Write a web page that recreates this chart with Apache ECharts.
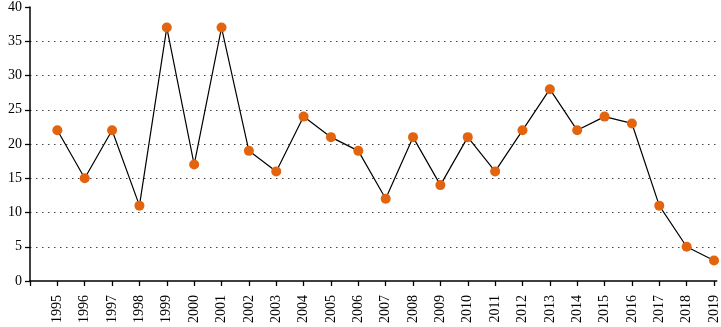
<!DOCTYPE html>
<html>
<head>
<meta charset="utf-8">
<script src="https://cdn.jsdelivr.net/npm/echarts@6/dist/echarts.min.js"></script>
<style>
  html, body { margin: 0; padding: 0; background: #fff; }
  #chart { width: 721px; height: 327px; }
</style>
</head>
<body>
<div id="chart"></div>
<script>
const years = [1995, 1996, 1997, 1998, 1999, 2000, 2001, 2002, 2003, 2004, 2005, 2006, 2007,
  2008, 2009, 2010, 2011, 2012, 2013, 2014, 2015, 2016, 2017, 2018, 2019];
const counts = [22, 15, 22, 11, 37, 17, 37, 19, 16, 24, 21, 19, 12,
  21, 14, 21, 16, 22, 28, 22, 24, 23, 11, 5, 3];
const yTicks = [0, 5, 10, 15, 20, 25, 30, 35, 40];

const chart = echarts.init(document.getElementById("chart"));

const font = "'Liberation Serif', 'DejaVu Serif', serif";

const option = {
  animation: false,
  grid: {
    left: 30,
    right: 2,
    top: 7,
    bottom: 46,
  },
  xAxis: {
    type: "value",
    min: 1994,
    max: 2019.1,
    interval: 1,
    splitLine: { show: false },
    axisLine: { lineStyle: { color: "#000", width: 1.5 } },
    axisTick: { length: 5, lineStyle: { color: "#000", width: 1.3 } },
    axisLabel: {
      rotate: 90,
      color: "#000",
      fontFamily: font,
      fontSize: 14,
      margin: 14,
      showMaxLabel: false,
      formatter: (v) => (years.includes(v) ? String(v) : ""),
    },
  },
  yAxis: {
    type: "value",
    min: yTicks[0],
    max: yTicks[yTicks.length - 1],
    interval: 5,
    axisLine: { show: true, lineStyle: { color: "#000", width: 1.5 } },
    axisTick: { show: true, length: 5, lineStyle: { color: "#000", width: 1.3 } },
    axisLabel: {
      color: "#000",
      fontFamily: font,
      fontSize: 14,
      margin: 8,
    },
    splitLine: {
      show: true,
      showMinLine: false,
      showMaxLine: false,
      lineStyle: { color: "#444", width: 1, type: [1.5, 4.5] },
    },
  },
  series: [
    {
      type: "line",
      data: years.map((y, i) => [y, counts[i]]),
      symbol: "circle",
      symbolSize: 10,
      lineStyle: { color: "#000", width: 1.2 },
      itemStyle: { color: "#E2640E" },
    },
  ],
};

chart.setOption(option);
</script>
</body>
</html>
